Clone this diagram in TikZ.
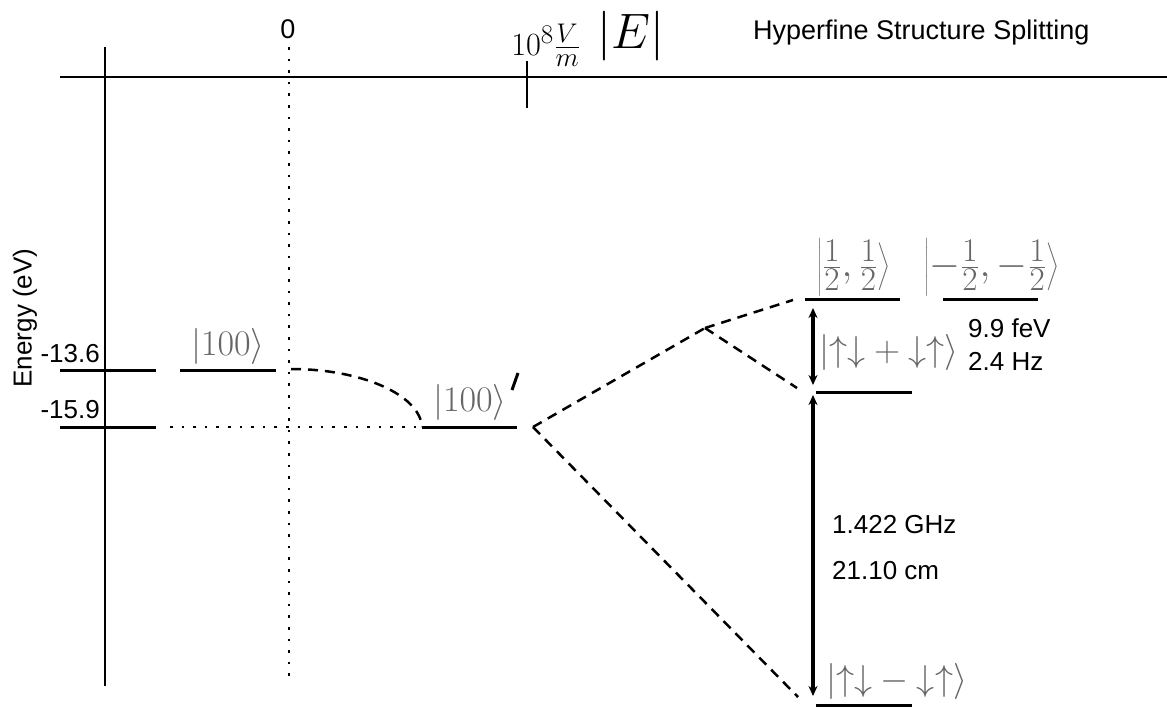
\documentclass[tikz,border=0pt]{standalone}
\usepackage[no-math]{fontspec}
\newfontfamily\arial{Liberation Sans}
\usetikzlibrary{arrows.meta}
\begin{document}
\begin{tikzpicture}[x=1pt,y=-1pt,
  ax/.style={line width=2.8pt},
  lvl/.style={line width=3pt},
  dots/.style={line width=2.6pt, dash pattern=on 2.6pt off 9pt},
  dsh/.style={line width=2.5pt, dash pattern=on 10pt off 7pt},
  lab/.style={inner sep=0, font=\arial\fontsize{26}{30}\selectfont},
  st/.style={inner sep=0, text=black!60, font=\Huge, scale=1.45},
  dbl/.style={line width=3.5pt, {Stealth[length=10pt,width=9pt]}-{Stealth[length=10pt,width=9pt]}}
]
\useasboundingbox (0,0) rectangle (1167,707);
% axes
\coordinate (vtop) at (105,47); \coordinate (vbot) at (105,686);
\draw[ax] (vtop) -- (vbot);
\coordinate (hl) at (60,77); \coordinate (hr) at (1167,77);
\draw[ax] (hl) -- (hr);
\coordinate (tkt) at (527,61); \coordinate (tkb) at (527,108);
\draw[ax] (tkt) -- (tkb);
\coordinate (zt) at (289,47); \coordinate (zb) at (289,683);
\draw[dots] (zt) -- (zb);
% axis labels
\node[lab, anchor=base, font=\arial\fontsize{27}{30}\selectfont] (zero) at (288,38) {0};
\node[inner sep=0, anchor=base west, font=\Huge, scale=1.3] (field) at (511,55) {$10^8\frac{V}{m}$};
\node[inner sep=0, anchor=base west, font=\Huge, scale=2] (fieldE) at (597,48) {$|E|$};
\node[lab, anchor=base west, font=\arial\fontsize{27}{30}\selectfont] (hfs) at (753,39) {Hyperfine Structure Splitting};
\node[lab, rotate=90] (energy) at (25,318) {Energy (eV)};
\node[lab, anchor=base east] (e1) at (100,362) {-13.6};
\node[lab, anchor=base east] (e2) at (100,418) {-15.9};
% levels
\coordinate (a1) at (60,370); \coordinate (a2) at (156,370);
\coordinate (b1) at (60,427); \coordinate (b2) at (156,427);
\coordinate (c1) at (180,370); \coordinate (c2) at (276,370);
\coordinate (d1) at (422,427); \coordinate (d2) at (517,427);
\coordinate (f1) at (805,299); \coordinate (f2) at (900,299);
\coordinate (g1) at (943,299); \coordinate (g2) at (1038,299);
\coordinate (p1) at (816,392); \coordinate (p2) at (912,392);
\coordinate (m1) at (816,705); \coordinate (m2) at (912,705);
\foreach \u/\v in {a1/a2,b1/b2,c1/c2,d1/d2,f1/f2,g1/g2,p1/p2,m1/m2} \draw[lvl] (\u) -- (\v);
% connectors
\coordinate (dotstart) at (170,427);
\draw[dots] (dotstart) -- (d1);
\coordinate (cstart) at (291,369);
\draw[dsh] (cstart) .. controls (362,369) and (420,395) .. (d1);
\coordinate (dstart) at (533,427);
\coordinate (junc) at (705,328);
\coordinate (fend) at (793,300);
\coordinate (pend) at (797,388);
\coordinate (mend) at (798,697);
\draw[dsh] (dstart) -- (junc);
\draw[dsh] (junc) -- (fend);
\draw[dsh] (junc) -- (pend);
\draw[dsh] (dstart) -- (mend);
% arrows
\coordinate (s1) at (813,308); \coordinate (s2) at (813,385);
\coordinate (t1) at (813,395); \coordinate (t2) at (813,696);
\draw[dbl] (s1) -- (s2);
\draw[dbl] (t1) -- (t2);
% state labels
\node[st] (k100) at (228,346) {$|100\rangle$};
\node[st] (k100p) at (470,402) {$|100\rangle$};
\coordinate (pr1) at (518,373); \coordinate (pr2) at (512,390);
\draw[line width=3pt] (pr1) -- (pr2);
\node[st, scale=1.1] (khh) at (854,267) {$\left|\frac{1}{2},\frac{1}{2}\right\rangle$};
\node[st, scale=1.1] (kmm) at (992,267) {$\left|-\frac{1}{2},-\frac{1}{2}\right\rangle$};
\node[st] (kp) at (889,352) {$|{\uparrow}{\downarrow}+{\downarrow}{\uparrow}\rangle$};
\node[st] (km) at (897,681) {$|{\uparrow}{\downarrow}-{\downarrow}{\uparrow}\rangle$};
% values
\node[lab, anchor=base west] (v1) at (968,337) {9.9 feV};
\node[lab, anchor=base west] (v2) at (968,370) {2.4 Hz};
\node[lab, anchor=base west] (v3) at (832,533) {1.422 GHz};
\node[lab, anchor=base west] (v4) at (832,579) {21.10 cm};
\end{tikzpicture}
\end{document}
